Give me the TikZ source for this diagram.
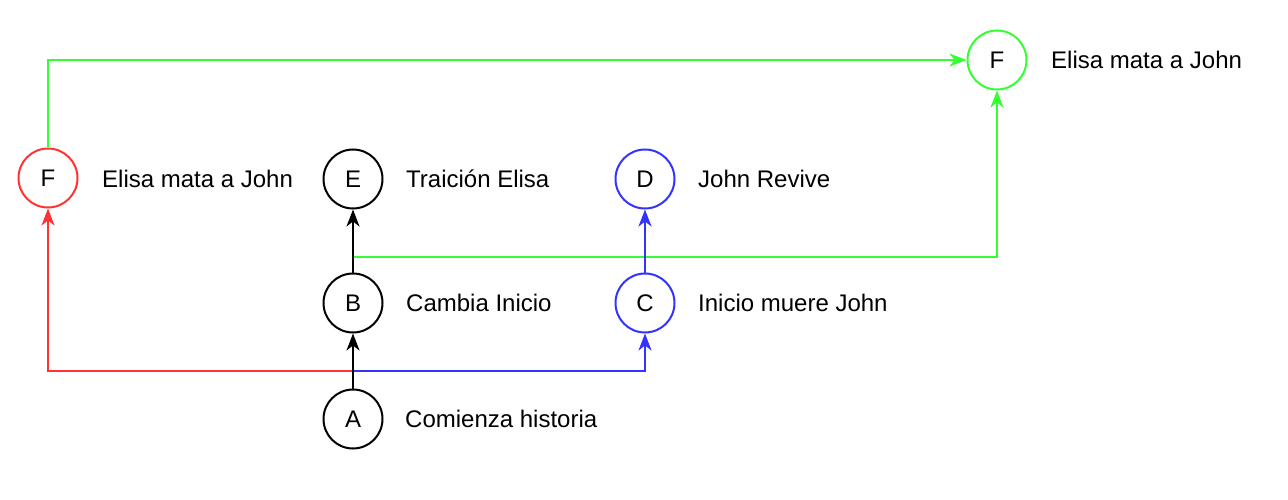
\documentclass[tikz,border=0pt]{standalone}
\usepackage{fontspec}
\setmainfont{Liberation Sans}
\usetikzlibrary{arrows.meta}
\definecolor{cred}{HTML}{FF3333}
\definecolor{cgreen}{HTML}{33FF33}
\definecolor{cblue}{HTML}{3333FF}
\begin{document}
\begin{tikzpicture}[x=1pt,y=-1pt,
  st/.style={circle,draw,line width=2pt,minimum size=59pt,inner sep=0pt,font=\fontsize{24}{28}\selectfont},
  lbl/.style={anchor=west,inner sep=0pt,font=\fontsize{24}{28}\selectfont},
  arr/.style={line width=2pt,-{Stealth[length=17pt,width=13pt,inset=5pt]}}]
\useasboundingbox (0,0) rectangle (1288,500);
\node[st] (A) at (353,419) {A};
\node[st] (B) at (353,303) {B};
\node[st,draw=cblue] (C) at (645,303) {C};
\node[st,draw=cblue] (D) at (645,179) {D};
\node[st] (E) at (353,179) {E};
\node[st,draw=cred] (F1) at (48,178) {F};
\node[st,draw=cgreen] (F2) at (997,60) {F};
\node[lbl] (lA) at (405,419) {Comienza historia};
\node[lbl] (lB) at (406,303) {Cambia Inicio};
\node[lbl] (lC) at (698,303) {Inicio muere John};
\node[lbl] (lD) at (698,179) {John Revive};
\node[lbl] (lE) at (406,179) {Traición Elisa};
\node[lbl] (lF1) at (102,179) {Elisa mata a John};
\node[lbl] (lF2) at (1051,60) {Elisa mata a John};
\draw[arr,cred] (A.north) -- (353,371) -| (F1.south);
\draw[arr,cblue] (A.north) -- (353,371) -| (C.south);
\draw[arr,cgreen] (B.north) -- (353,257) -| (F2.south);
\draw[arr,cgreen] (F1.north) |- (F2.west);
\draw[arr] (A) -- (B);
\draw[arr] (B) -- (E);
\draw[arr,cblue] (C) -- (D);
\end{tikzpicture}
\end{document}
